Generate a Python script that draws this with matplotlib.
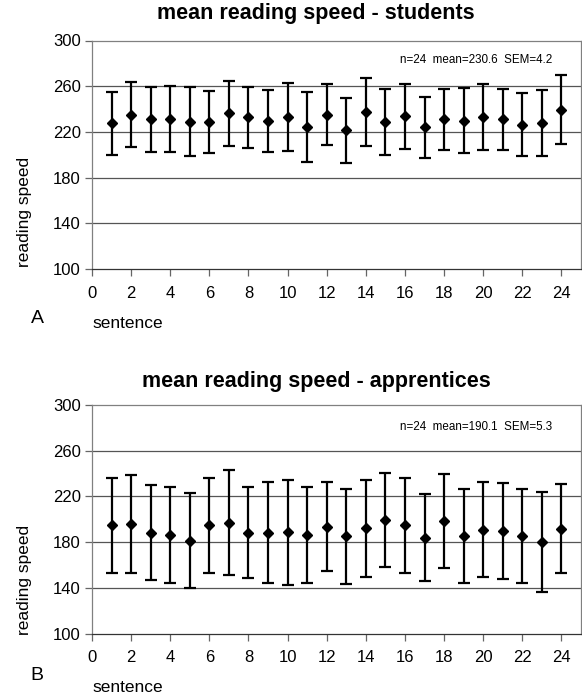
import numpy as np
import matplotlib
matplotlib.use('Agg')
import matplotlib.pyplot as plt

plt.rcParams['font.family'] = ['Liberation Sans', 'DejaVu Sans']

sentences = list(range(1, 25))

# students (panel A)
students_mean = [227.7, 235.1, 231.0, 231.3, 228.9, 228.6, 236.3, 232.7, 229.8, 232.7, 224.1, 235.1,
                 221.5, 237.2, 228.6, 233.6, 223.9, 231.0, 229.8, 233.3, 231.0, 226.2, 227.7, 239.6]
students_sd = [27.5, 28.6, 28.6, 29.2, 30.0, 27.4, 28.6, 26.5, 27.1, 29.8, 30.6, 26.7,
               28.3, 29.8, 28.9, 28.2, 26.5, 26.5, 28.3, 28.8, 26.5, 27.6, 28.7, 30.0]

# apprentices (panel B)
apprentices_mean = [194.6, 195.7, 188.4, 186.3, 181.4, 194.6, 196.9, 188.4, 188.4, 188.7, 186.1, 193.4,
                    185.2, 192.2, 199.3, 194.6, 183.7, 198.1, 185.2, 191.0, 189.9, 185.2, 180.2, 191.9]
apprentices_sd = [41.5, 42.7, 41.6, 41.7, 41.2, 41.5, 45.8, 39.9, 44.5, 46.0, 41.7, 39.0,
                  41.7, 42.4, 41.5, 41.5, 38.1, 41.1, 41.1, 41.5, 42.1, 41.0, 43.6, 39.0]

titles = ['mean reading speed - students', 'mean reading speed - apprentices']
stats = ['n=24  mean=230.6  SEM=4.2', 'n=24  mean=190.1  SEM=5.3']
letters = ['A', 'B']

W, H = 582, 694
fig = plt.figure(figsize=(W / 100, H / 100), dpi=100)


def fx(px):
    return px / W


def fy(py):
    return 1 - py / H


panels = [
    dict(top=40.5, bottom=269, mean=students_mean, sd=students_sd),
    dict(top=405, bottom=633.5, mean=apprentices_mean, sd=apprentices_sd),
]
x_left, x_right = 92, 581

for i, p in enumerate(panels):
    ax = fig.add_axes([fx(x_left), fy(p['bottom']), fx(x_right - x_left),
                       (p['bottom'] - p['top']) / H])
    ax.errorbar(sentences, p['mean'], yerr=p['sd'], fmt='D', color='black',
                ms=5.2, elinewidth=1.6, capsize=4.5, capthick=1.6, zorder=3)
    ax.set_xlim(0, 25)
    ax.set_ylim(100, 300)
    ax.set_xticks(range(0, 25, 2))
    ax.set_yticks(range(100, 301, 40))
    for v in [140, 180, 220, 260]:
        ax.axhline(v, color='#555555', lw=0.9, zorder=1)
    for s in ax.spines.values():
        s.set_color('#808080')
        s.set_linewidth(0.9)
    ax.spines['bottom'].set_color('#333333')
    ax.tick_params(axis='both', direction='out', length=5, width=0.9, color='#666666',
                   labelsize=12)
    ax.tick_params(axis='x', pad=7)
    ax.tick_params(axis='y', pad=3)

    t_y = 14 if i == 0 else 381
    fig.text(fx(316), fy(t_y), titles[i], ha='center', va='center',
             fontsize=15.5, fontweight='bold')
    s_y = 60 if i == 0 else 427
    fig.text(fx(476), fy(s_y), stats[i], ha='center', va='center', fontsize=8.4)
    yl_y = 212 if i == 0 else 580
    fig.text(fx(25), fy(yl_y), 'reading speed', rotation=90, ha='center', va='center',
             fontsize=12.5)
    l_y = 319 if i == 0 else 675
    fig.text(fx(37), fy(l_y), letters[i], ha='center', va='center', fontsize=14)
    fig.text(fx(128), fy(l_y + 4 if i == 0 else l_y + 12), 'sentence',
             ha='center', va='center', fontsize=12.5)

fig.savefig('out.png', dpi=100)
